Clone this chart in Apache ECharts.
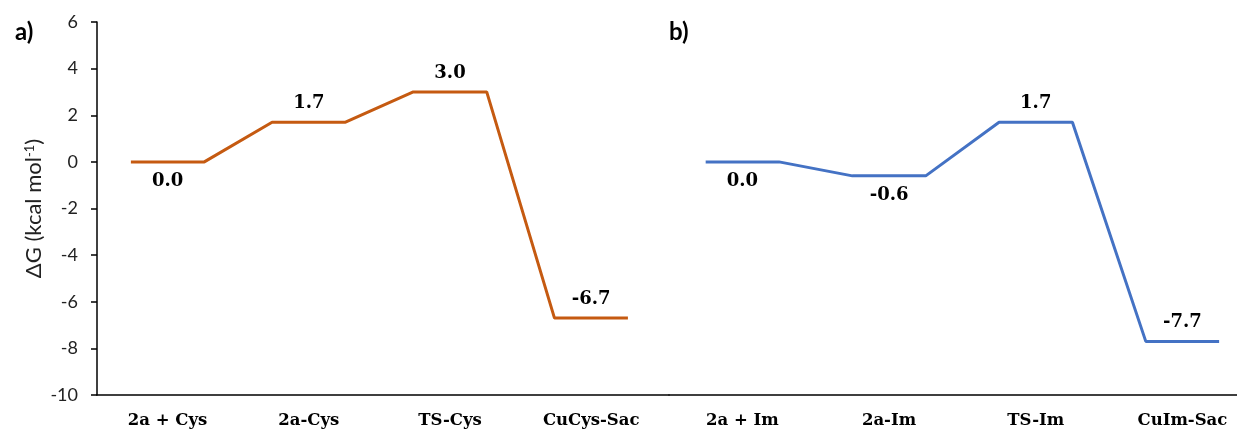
<!DOCTYPE html>
<html>
<head>
<meta charset="utf-8">
<script src="https://cdn.jsdelivr.net/npm/echarts@6/dist/echarts.min.js"></script>
<style>html,body{margin:0;padding:0;background:#fff}#c{width:1237px;height:430px}</style>
</head>
<body>
<div id="c"></div>
<script>
const catsA = ['2a + Cys', '2a-Cys', 'TS-Cys', 'CuCys-Sac'];
const valsA = [0.0, 1.7, 3.0, -6.7];
const labelPosA = ['bottom', 'top', 'top', 'top'];
const catsB = ['2a + Im', '2a-Im', 'TS-Im', 'CuIm-Sac'];
const valsB = [0.0, -0.6, 1.7, -7.7];
const labelPosB = ['bottom', 'bottom', 'top', 'top'];
const yTicks = [6, 4, 2, 0, -2, -4, -6, -8, -10];

const serifBold = '"DejaVu Serif", "Liberation Serif", serif';
const sans = 'Lato, "Open Sans", "Liberation Sans", sans-serif';

function buildSeries(vals, pos, half) {
  const pts = [];
  vals.forEach((v, i) => {
    const c = i + 0.5;
    pts.push({ value: [c - half, v] });
    pts.push({ value: [c, v], label: { show: true, position: pos[i], formatter: v.toFixed(1) } });
    pts.push({ value: [c + half, v] });
  });
  return pts;
}

function catFormatter(cats) {
  return function (v) {
    const k = v - 0.5;
    const i = Math.round(k);
    if (Math.abs(k - i) < 1e-6 && i >= 0 && i < cats.length) return cats[i];
    return '';
  };
}

const chart = echarts.init(document.getElementById('c'), null, { renderer: 'canvas' });
const labelStyle = { show: false, fontFamily: serifBold, fontWeight: 'bold', fontSize: 18, color: '#000', distance: 10 };
const xLabel = { showMinLabel: true, showMaxLabel: false, fontFamily: serifBold, fontWeight: 'bold', fontSize: 16.5, color: '#000', margin: 17 };
chart.setOption({
  animation: false,
  title: [
    { text: 'a)', left: 10, top: 15, textStyle: { fontFamily: sans, fontWeight: 'bold', fontSize: 24, color: '#000' } },
    { text: 'b)', left: 664, top: 15, textStyle: { fontFamily: sans, fontWeight: 'bold', fontSize: 24, color: '#000' } }
  ],
  grid: [
    { left: 97, top: 22, width: 572, bottom: 35 },
    { left: 669, top: 22, width: 568, bottom: 35 }
  ],
  xAxis: [
    { type: 'value', gridIndex: 0, min: 0, max: 572 / 141.2, interval: 0.5,
      axisLine: { show: true, onZero: false, lineStyle: { color: '#000', width: 1.5 } }, axisTick: { show: false }, splitLine: { show: false },
      axisLabel: Object.assign({ formatter: catFormatter(catsA) }, xLabel) },
    { type: 'value', gridIndex: 1, min: 0, max: 568 / 146.7, interval: 0.5,
      axisLine: { show: true, onZero: false, lineStyle: { color: '#000', width: 1.5 } }, axisTick: { show: false }, splitLine: { show: false },
      axisLabel: Object.assign({ formatter: catFormatter(catsB) }, xLabel) }
  ],
  yAxis: [
    { type: 'value', gridIndex: 0, min: -10, max: 6, interval: 2,
      axisLine: { show: true, lineStyle: { color: '#000', width: 1.5 } },
      axisTick: { show: true, length: 6, lineStyle: { color: '#000', width: 1.5 } },
      splitLine: { show: false },
      axisLabel: { fontFamily: sans, fontSize: 18, color: '#222', margin: 19 },
      name: '{a|ΔG (kcal mol}{s|-1}{a|)}', nameLocation: 'middle', nameGap: 52, nameRotate: 90,
      nameTextStyle: { rich: { a: { fontFamily: sans, fontSize: 22, color: '#222' }, s: { fontFamily: sans, fontSize: 13, color: '#222', verticalAlign: 'top' } } } },
    { type: 'value', gridIndex: 1, min: -10, max: 6, interval: 2, show: false }
  ],
  series: [
    { type: 'line', xAxisIndex: 0, yAxisIndex: 0, data: buildSeries(valsA, labelPosA, 0.26),
      symbol: 'circle', symbolSize: 0, showSymbol: true, lineStyle: { color: '#C55A11', width: 3 }, itemStyle: { color: '#C55A11' }, label: labelStyle },
    { type: 'line', xAxisIndex: 1, yAxisIndex: 1, data: buildSeries(valsB, labelPosB, 0.25),
      symbol: 'circle', symbolSize: 0, showSymbol: true, lineStyle: { color: '#4472C4', width: 3 }, itemStyle: { color: '#4472C4' }, label: labelStyle }
  ]
});
</script>
</body>
</html>
